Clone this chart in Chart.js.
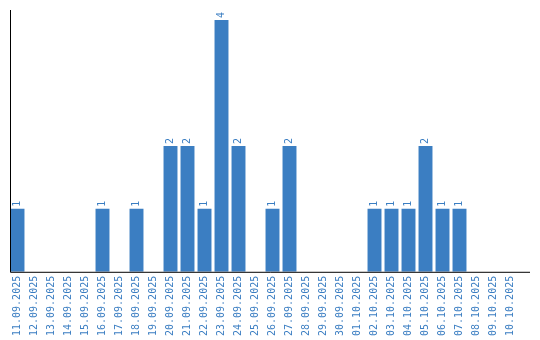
<!DOCTYPE html>
<html>
<head>
<meta charset="utf-8">
<script src="https://cdn.jsdelivr.net/npm/chart.js@4"></script>
<style>
  html, body { margin: 0; padding: 0; background: #fff; }
  #wrap { width: 540px; height: 340px; }
</style>
</head>
<body>
<div id="wrap"><canvas id="c"></canvas></div>
<script>
var days = [
  '11.09.2025', '12.09.2025', '13.09.2025', '14.09.2025', '15.09.2025',
  '16.09.2025', '17.09.2025', '18.09.2025', '19.09.2025', '20.09.2025',
  '21.09.2025', '22.09.2025', '23.09.2025', '24.09.2025', '25.09.2025',
  '26.09.2025', '27.09.2025', '28.09.2025', '29.09.2025', '30.09.2025',
  '01.10.2025', '02.10.2025', '03.10.2025', '04.10.2025', '05.10.2025',
  '06.10.2025', '07.10.2025', '08.10.2025', '09.10.2025', '10.10.2025'
];
var counts = [
  1, 0, 0, 0, 0,
  1, 0, 1, 0, 2,
  2, 1, 4, 2, 0,
  1, 2, 0, 0, 0,
  0, 1, 1, 1, 2,
  1, 1, 0, 0, 0
];
var yMax = 4.16;

var blue = '#3b7ec2';
var labelFont = '10px "DejaVu Sans Mono", monospace';

// value labels above bars + axis lines
var barLabels = {
  id: 'barLabels',
  afterDatasetsDraw: function (chart) {
    var ctx = chart.ctx;
    var meta = chart.getDatasetMeta(0);
    ctx.save();
    ctx.fillStyle = blue;
    ctx.font = labelFont;
    ctx.textAlign = 'left';
    ctx.textBaseline = 'middle';
    meta.data.forEach(function (bar, i) {
      var v = counts[i];
      if (!v) return;
      ctx.save();
      ctx.translate(bar.x, bar.y - 2);
      ctx.rotate(-Math.PI / 2);
      ctx.fillText(String(v), 0, 0);
      ctx.restore();
    });
    ctx.restore();

    // draw the axes
    var area = chart.chartArea;
    ctx.save();
    ctx.strokeStyle = '#000';
    ctx.lineWidth = 1;
    ctx.beginPath();
    ctx.moveTo(10.5, area.top);
    ctx.lineTo(10.5, area.bottom + 0.5);
    ctx.lineTo(530, area.bottom + 0.5);
    ctx.stroke();
    ctx.restore();
  }
};

new Chart(document.getElementById('c'), {
  type: 'bar',
  data: {
    labels: days,
    datasets: [{
      data: counts,
      backgroundColor: blue,
      borderWidth: 0,
      barPercentage: 0.82,
      categoryPercentage: 1
    }]
  },
  options: {
    responsive: true,
    maintainAspectRatio: false,
    animation: false,
    layout: { padding: { left: 9, right: 21, top: 10, bottom: 0 } },
    plugins: {
      legend: { display: false },
      tooltip: { enabled: false }
    },
    scales: {
      x: {
        offset: true,
        grid: { display: false, drawTicks: false },
        border: { display: false },
        ticks: {
          color: blue,
          font: { family: '"DejaVu Sans Mono", monospace', size: 10 },
          minRotation: 90,
          maxRotation: 90,
          autoSkip: false,
          padding: 4
        }
      },
      y: {
        min: 0,
        max: yMax,
        grid: { display: false, drawTicks: false },
        border: { display: false },
        ticks: { display: false }
      }
    }
  },
  plugins: [barLabels]
});
</script>
</body>
</html>
